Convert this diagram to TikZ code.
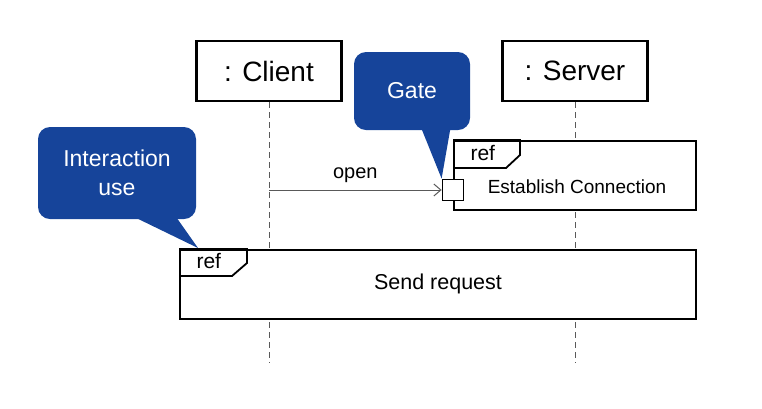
\documentclass[tikz,border=0pt]{standalone}
\usepackage{fontspec}
\setmainfont{Liberation Sans}
\usetikzlibrary{arrows.meta}
\definecolor{noteblue}{RGB}{22,68,154}
\tikzset{
  lifebox/.style={draw, fill=white, line width=2.2pt, minimum width=145pt, minimum height=60pt, inner sep=0pt, font=\fontsize{28}{32}\selectfont},
  lifeline/.style={draw=black!65, line width=1pt, dash pattern=on 6pt off 4pt},
  refframe/.style={draw, fill=white, line width=1.8pt, anchor=north west, inner sep=0pt},
  reftag/.style={line width=1.8pt, line join=miter},
  note/.style={fill=noteblue, rounded corners=12pt, text=white, inner sep=0pt, align=center, font=\fontsize{23}{29}\selectfont},
  msg/.style={draw=black!65, line width=1pt, -{Straight Barb[length=7pt,width=12pt]}}
}
\begin{document}
\begin{tikzpicture}[x=1pt,y=-1pt]
\useasboundingbox (0,0) rectangle (762,408);
% lifelines
\node[lifebox] (client) at (269,71) {: Client};
\node[lifebox] (server) at (575,71) {: Server};
\coordinate (clientend) at (269,363);
\coordinate (serverend) at (575,363);
\draw[lifeline] (client.south) -- (clientend);
\draw[lifeline] (server.south) -- (serverend);
% ref: Establish Connection
\node[refframe, minimum width=242pt, minimum height=69pt] (estab) at (453,140) {};
\draw[reftag] (estab.north west) -- ++(67,0) -- ++(0,15) -- ++(-14,13) -- ++(-53,0);
\node[anchor=west, font=\fontsize{21}{24}\selectfont] (estabref) at ([shift={(14,13)}]estab.north west) {ref};
\node[font=\fontsize{19}{22}\selectfont] (establabel) at (577,187) {Establish Connection};
\node[draw, fill=white, line width=1.8pt, minimum size=21pt, inner sep=0pt] (gate) at (estab.west |- 0,190) {};
% message
\coordinate (openstart) at (269,190);
\draw[msg] (openstart) -- (gate.west) node[midway, above=4pt, black, font=\fontsize{20}{24}\selectfont] {open};
% ref: Send request
\node[refframe, minimum width=516pt, minimum height=69pt] (send) at (179,249) {};
\draw[reftag] (send.north west) -- ++(68,0) -- ++(0,14) -- ++(-15,13) -- ++(-53,0);
\node[anchor=west, font=\fontsize{21}{24}\selectfont] (sendref) at ([shift={(14,12)}]send.north west) {ref};
\node[font=\fontsize{21.5}{24}\selectfont] (sendlabel) at (438,284) {Send request};
% callouts
\node[note, minimum width=116pt, minimum height=78pt] (gatenote) at (412,91) {Gate};
\fill[noteblue] (420,125) -- (gate.north west) -- (451,125) -- cycle;
\node[note, minimum width=158pt, minimum height=92pt] (usenote) at (117,173) {Interaction\\use};
\coordinate (usetip) at (198,248);
\fill[noteblue] (128,214) -- (usetip) -- (174,214) -- cycle;
\end{tikzpicture}
\end{document}
